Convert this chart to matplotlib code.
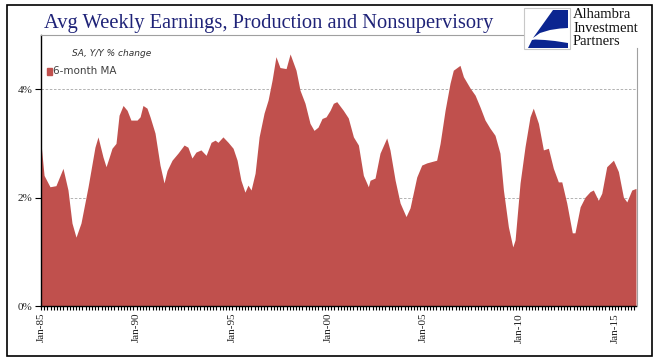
import matplotlib.pyplot as plt
import numpy as np
from matplotlib.patches import Rectangle, Polygon
from matplotlib.lines import Line2D

# 6-month MA of avg weekly earnings, y/y % change
years = [1985.00, 1985.16, 1985.47, 1985.78, 1986.15, 1986.41, 1986.62, 1986.83, 1987.09, 1987.46,
         1987.82, 1987.98, 1988.24, 1988.40, 1988.55, 1988.71, 1988.92, 1989.08, 1989.29, 1989.50,
         1989.70, 1990.02, 1990.18, 1990.33, 1990.54, 1990.70, 1990.96, 1991.22, 1991.43, 1991.59,
         1991.85, 1992.16, 1992.48, 1992.68, 1992.89, 1993.10, 1993.36, 1993.63, 1993.89, 1994.10,
         1994.25, 1994.51, 1994.78, 1995.04, 1995.25, 1995.45, 1995.66, 1995.82, 1995.98, 1996.19,
         1996.40, 1996.66, 1996.87, 1997.08, 1997.28, 1997.49, 1997.81, 1998.02, 1998.33, 1998.54,
         1998.80, 1999.06, 1999.27, 1999.48, 1999.69, 1999.90, 2000.11, 2000.28, 2000.46, 2000.80,
         2001.06, 2001.33, 2001.59, 2001.85, 2002.11, 2002.20, 2002.46, 2002.72, 2003.07, 2003.24,
         2003.51, 2003.77, 2004.08, 2004.29, 2004.64, 2004.90, 2005.16, 2005.68, 2005.86, 2006.12,
         2006.38, 2006.55, 2006.90, 2007.08, 2007.43, 2007.69, 2007.95, 2008.21, 2008.47, 2008.73,
         2008.99, 2009.17, 2009.43, 2009.66, 2009.78, 2010.04, 2010.30, 2010.56, 2010.73, 2011.00,
         2011.26, 2011.52, 2011.78, 2012.04, 2012.22, 2012.48, 2012.77, 2012.91, 2013.18, 2013.44,
         2013.70, 2013.87, 2014.13, 2014.31, 2014.57, 2014.92, 2015.18, 2015.44, 2015.62, 2015.88,
         2016.10]
ma6 = [3.00, 2.41, 2.20, 2.22, 2.54, 2.14, 1.53, 1.27, 1.53, 2.20,
       2.93, 3.12, 2.75, 2.57, 2.73, 2.91, 3.00, 3.52, 3.70, 3.61,
       3.43, 3.43, 3.49, 3.70, 3.65, 3.49, 3.19, 2.60, 2.27, 2.50,
       2.69, 2.82, 2.97, 2.93, 2.73, 2.84, 2.88, 2.78, 3.02, 3.06,
       3.02, 3.12, 3.02, 2.91, 2.69, 2.32, 2.10, 2.23, 2.14, 2.45,
       3.12, 3.56, 3.80, 4.17, 4.60, 4.40, 4.38, 4.65, 4.35, 3.98,
       3.74, 3.37, 3.24, 3.30, 3.46, 3.49, 3.61, 3.74, 3.77, 3.61,
       3.47, 3.12, 2.97, 2.41, 2.20, 2.32, 2.36, 2.82, 3.10, 2.88,
       2.32, 1.90, 1.65, 1.81, 2.38, 2.60, 2.64, 2.69, 3.00, 3.61,
       4.11, 4.35, 4.44, 4.23, 4.02, 3.89, 3.67, 3.43, 3.28, 3.15,
       2.82, 2.14, 1.46, 1.09, 1.22, 2.27, 2.94, 3.49, 3.65, 3.37,
       2.88, 2.91, 2.54, 2.29, 2.29, 1.90, 1.35, 1.35, 1.83, 2.01,
       2.11, 2.14, 1.95, 2.08, 2.57, 2.69, 2.48, 2.01, 1.92, 2.14,
       2.17]

tick_years = [1985, 1990, 1995, 2000, 2005, 2010, 2015]
tick_labels = ['Jan-85', 'Jan-90', 'Jan-95', 'Jan-00', 'Jan-05', 'Jan-10', 'Jan-15']
y_ticks = [0, 2, 4]
y_labels = ['0%', '2%', '4%']

W, H = 654, 358
fig = plt.figure(figsize=(W / 100, H / 100), dpi=100)

def fx(px):
    return px / W

def fy(py):
    return 1 - py / H

ax = fig.add_axes([fx(41), fy(306), fx(636) - fx(41), fy(35) - fy(306)])
ax.fill_between(years, ma6, 0, color='#C0504D', linewidth=0)
ax.set_xlim(1985, 2016.1)
ax.set_ylim(0, 5)

for g in [2, 4]:
    ax.axhline(g, color='#a6a6a6', lw=0.6, linestyle=(0, (3, 2)), zorder=0)

ax.set_yticks(y_ticks)
ax.set_yticklabels(y_labels, family='Liberation Serif', fontsize=8, color='#222222')
ax.set_xticks(tick_years)
ax.set_xticklabels(tick_labels, rotation=90, family='Liberation Serif', fontsize=8, color='#222222')
ax.set_xticks(np.arange(1985, 2016.1, 1 / 6), minor=True)
ax.tick_params(axis='x', which='both', direction='out', length=3, width=0.8, pad=2)
ax.tick_params(axis='y', direction='out', length=4, width=0.8, pad=2)
for s in ['top', 'right']:
    ax.spines[s].set_visible(False)
ax.spines['left'].set_linewidth(1.0)
ax.spines['bottom'].set_linewidth(1.0)

# plot frame pieces and outer border
fig.add_artist(Line2D([fx(41), fx(523)], [fy(35), fy(35)], color='#a0a0a0', lw=0.8))
fig.add_artist(Line2D([fx(637), fx(637)], [fy(48), fy(306)], color='#a0a0a0', lw=0.8))
fig.add_artist(Rectangle((fx(7), fy(356)), fx(652) - fx(7), fy(5) - fy(356),
                         fill=False, edgecolor='black', lw=1.2))

fig.text(fx(44), fy(28), 'Avg Weekly Earnings, Production and Nonsupervisory',
         family='Liberation Serif', fontsize=14.8, color='#1F2378', va='baseline')

ax.text(fx(72), fy(53), 'SA, Y/Y % change', transform=fig.transFigure,
        fontsize=6.5, style='italic', color='#333333', va='center')
fig.add_artist(Rectangle((fx(47), fy(75)), fx(5), fy(68) - fy(75), color='#C0504D'))
fig.text(fx(53), fy(71.5), '6-month MA', fontsize=7.5, color='#404040', va='center')

# logo
fig.add_artist(Rectangle((fx(524), fy(49)), fx(46), fy(8) - fy(49),
                         facecolor='white', edgecolor='#c8c8c8', lw=0.8))
blue = '#0B2590'
fig.add_artist(Polygon([(fx(568), fy(10)), (fx(553), fy(10)), (fx(533), fy(38)),
                        (fx(540), fy(33)), (fx(550), fy(30)), (fx(560), fy(28.5)),
                        (fx(568), fy(28))],
                       closed=True, facecolor=blue, edgecolor='none'))
fig.add_artist(Polygon([(fx(532), fy(40)), (fx(528), fy(48)), (fx(568), fy(48)),
                        (fx(568), fy(43)), (fx(555), fy(41)), (fx(545), fy(40)),
                        (fx(535), fy(39.5))],
                       closed=True, facecolor=blue, edgecolor='none'))
for i, word in enumerate(['Alhambra', 'Investment', 'Partners']):
    fig.text(fx(573), fy(18 + 13.5 * i), word, family='Liberation Serif',
             fontsize=10.5, color='#111111', va='baseline')

fig.savefig('out.png', dpi=100)
